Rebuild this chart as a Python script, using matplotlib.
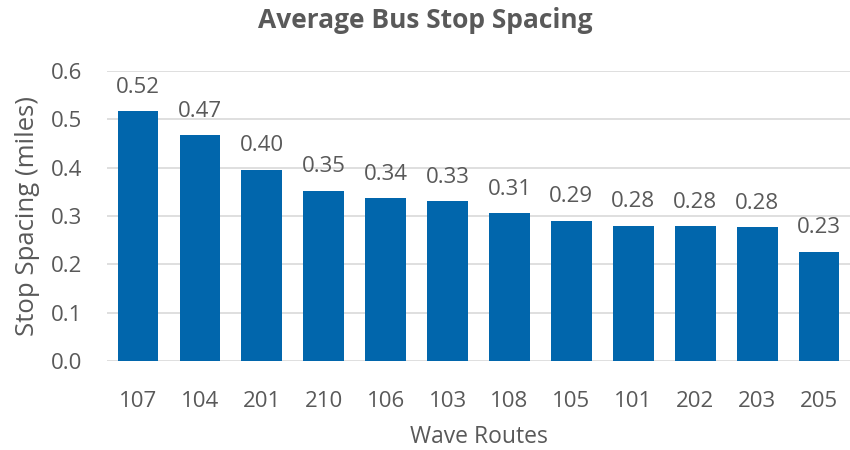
import matplotlib.pyplot as plt

plt.rcParams['font.family'] = ['Open Sans', 'DejaVu Sans']

routes = ['107', '104', '201', '210', '106', '103', '108', '105', '101', '202', '203', '205']
spacing = [0.517, 0.467, 0.396, 0.352, 0.337, 0.331, 0.306, 0.290, 0.280, 0.279, 0.277, 0.226]

text_color = '#595959'
bar_color = '#0166AC'

fig = plt.figure(figsize=(8.5, 4.5), dpi=100)
ax = fig.add_axes([0.126, 0.198, 0.874, 0.644])

x = range(len(routes))
ax.bar(x, spacing, width=0.66, color=bar_color, zorder=3)

# value labels above each bar
for i, v in zip(x, spacing):
    ax.text(i, v + 0.028, f'{v:.2f}', ha='center', va='bottom',
            fontsize=16, color=text_color)

ax.set_xlim(-0.5, len(routes) - 0.5)
ax.set_ylim(0, 0.6)
ax.set_yticks([0.0, 0.1, 0.2, 0.3, 0.4, 0.5, 0.6])
ax.set_yticklabels(['0.0', '0.1', '0.2', '0.3', '0.4', '0.5', '0.6'])
ax.set_xticks(list(x))
ax.set_xticklabels(routes)
ax.tick_params(axis='both', length=0, labelsize=16, labelcolor=text_color)
ax.tick_params(axis='x', pad=22)
ax.tick_params(axis='y', pad=18)

ax.grid(axis='y', color='#D9D9D9', linewidth=1.2, zorder=0)
for s in ax.spines.values():
    s.set_visible(False)

ax.set_xlabel('Wave Routes', fontsize=16.5, color=text_color, labelpad=9)
ax.set_ylabel('Stop Spacing (miles)', fontsize=18.5, color=text_color, labelpad=8)
fig.suptitle('Average Bus Stop Spacing', fontsize=19, fontweight='bold',
             color=text_color, x=0.5, y=0.985)

fig.savefig('out.png', dpi=100)
